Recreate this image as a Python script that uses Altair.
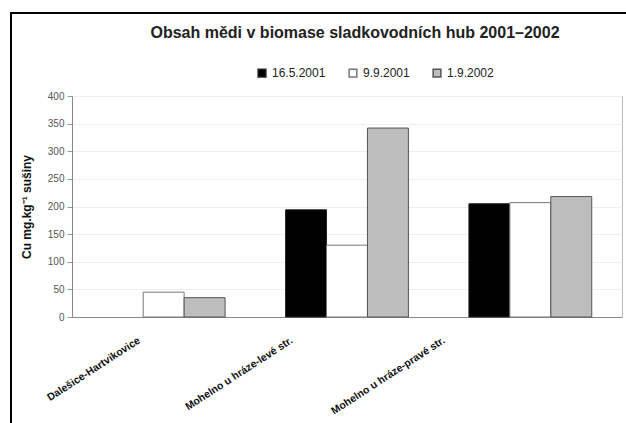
import altair as alt
import pandas as pd

sites = ["Dalešice-Hartvikovice", "Mohelno u hráze-levé str.", "Mohelno u hráze-pravé str."]
dates = ["16.5.2001", "9.9.2001", "1.9.2002"]
v_1605_2001 = [None, 194, 205]
v_0909_2001 = [45, 130, 207]
v_0109_2002 = [35, 342, 218]
fills = ["#000000", "#ffffff", "#bdbdbd"]
strokes = ["#222222", "#777777", "#555555"]

rows = []
for d, vals in zip(dates, [v_1605_2001, v_0909_2001, v_0109_2002]):
    for s, v in zip(sites, vals):
        if v is not None:
            rows.append({"site": s, "date": d, "value": v})
df = pd.DataFrame(rows)

FONT = "Liberation Sans"

label_offset = {
    "condition": [
        {"test": f"datum.value == '{sites[0]}'", "value": -27},
        {"test": f"datum.value == '{sites[1]}'", "value": -58},
    ],
    "value": -89,
}

legend_kw = dict(title=None, orient="none", direction="horizontal",
                 legendX=184, legendY=-29, symbolType="square",
                 symbolSize=60, labelFont=FONT, labelFontSize=12,
                 labelColor="#222", columnPadding=20, labelOffset=4)

bars = alt.Chart(df).mark_bar(strokeWidth=1).encode(
    x=alt.X("site:N", sort=sites,
            scale=alt.Scale(paddingInner=0.33, paddingOuter=0.165),
            axis=alt.Axis(title=None, labelAngle=-33, labelAlign="right", labelBaseline="top",
                          labelPadding=18, labelOffset=label_offset, ticks=False,
                          labelFont=FONT, labelFontSize=10.5, labelFontWeight="bold",
                          labelColor="#111", domainColor="#888", labelLimit=300)),
    xOffset=alt.XOffset("date:N", sort=dates, scale=alt.Scale(paddingInner=0, paddingOuter=0)),
    y=alt.Y("value:Q", scale=alt.Scale(domain=[0, 400], nice=False),
            axis=alt.Axis(title="Cu mg.kg⁻¹ sušiny", values=list(range(0, 401, 50)),
                          titleFont=FONT, titleFontSize=12, titleFontWeight="bold",
                          titleColor="#111", titlePadding=14,
                          labelFont=FONT, labelFontSize=10, labelColor="#555",
                          labelPadding=3, tickSize=5, tickColor="#999",
                          domainColor="#888", gridColor="#eeeeee")),
    fill=alt.Fill("date:N", sort=dates, scale=alt.Scale(domain=dates, range=fills),
                  legend=alt.Legend(**legend_kw)),
    stroke=alt.Stroke("date:N", sort=dates, scale=alt.Scale(domain=dates, range=strokes),
                      legend=alt.Legend(**legend_kw)),
)

frame_v = alt.Chart(df).mark_rule(color="black", strokeWidth=2).encode(
    x=alt.value(-61), y=alt.value(-83), y2=alt.value(340))
frame_h = alt.Chart(df).mark_rule(color="black", strokeWidth=2).encode(
    x=alt.value(-62), x2=alt.value(560), y=alt.value(-83))

chart = alt.layer(frame_v, frame_h, bars).properties(
    width=550, height=221,
    autosize=alt.AutoSizeParams(type="none"),
    padding={"left": 72, "top": 96, "right": 4, "bottom": 106},
    background="white",
    title=alt.TitleParams("Obsah mědi v biomase sladkovodních hub 2001–2002",
                          font=FONT, fontSize=16, fontWeight="bold", color="#222",
                          anchor="middle", offset=-29, dx=8),
).configure_view(stroke="#bbbbbb")

chart.save("out.html", embed_options={"renderer": "svg", "actions": False})
